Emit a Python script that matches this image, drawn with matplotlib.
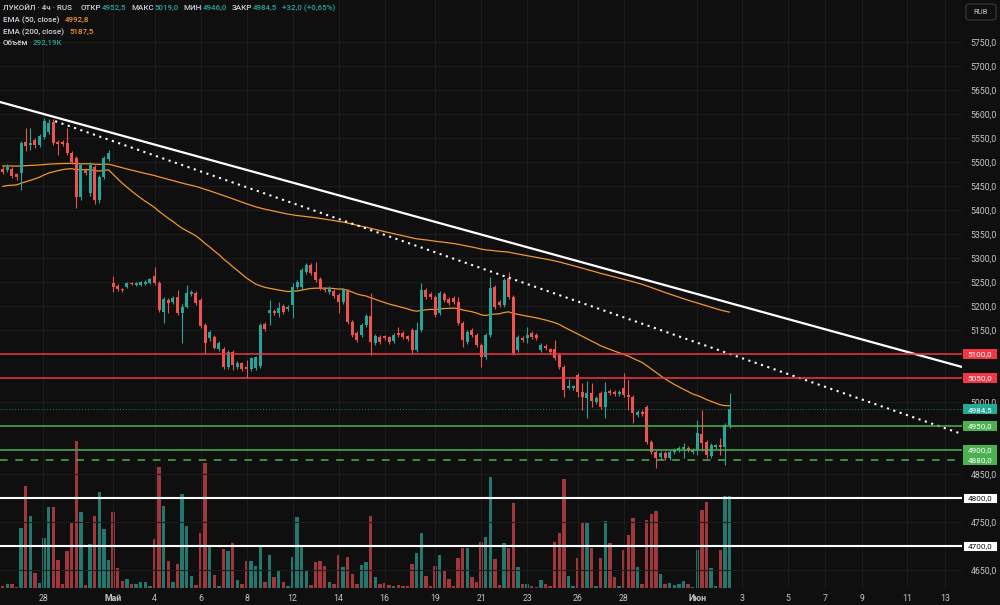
import numpy as np
import matplotlib
matplotlib.use("Agg")
import matplotlib.pyplot as plt
from matplotlib.transforms import blended_transform_factory
from matplotlib.patches import Rectangle, FancyBboxPatch

plt.rcParams['font.family'] = ['Roboto', 'DejaVu Sans']

# ---------------- data (4h candles, LUKOIL) ----------------
opens = [5486, 5483, 5485, 5475, 5477, 5542, 5535, 5546, 5535, 5552,
         5562, 5583, 5542, 5542, 5540, 5519, 5508, 5427, 5483, 5435,
         5490, 5421, 5469, 5506,
         5248, 5242, 5236, 5240, 5247, 5244, 5244, 5246, 5248, 5262,
         5248, 5188, 5213, 5208, 5219, 5185, 5198, 5225, 5227, 5213,
         5160, 5133, 5135, 5110, 5110, 5073, 5104, 5073, 5081, 5073,
         5069, 5071, 5075, 5162, 5185, 5190, 5185, 5200, 5194, 5202,
         5240, 5240, 5271, 5285, 5271, 5256, 5238, 5229, 5231, 5223,
         5208, 5231, 5167, 5144, 5140, 5160, 5179, 5123, 5135, 5137,
         5135, 5127, 5144, 5144, 5137, 5150, 5108, 5150, 5233, 5225,
         5219, 5185, 5225, 5215, 5217, 5208, 5165, 5125, 5150, 5140,
         5119, 5094, 5140, 5240, 5208, 5202, 5258, 5219, 5108, 5133,
         5133, 5144, 5140, 5108, 5117, 5110, 5110, 5098, 5073, 5029,
         5029, 5056, 5021, 5008, 5019, 5000, 5019, 4990, 5023, 5021,
         5017, 5029, 5015, 5010, 4973, 4979, 4990, 4917, 4896, 4885,
         4894, 4883, 4896, 4900, 4902, 4904, 4896, 4900, 4933, 4917,
         4887, 4906, 4910, 4906, 4952.5]
highs = [5492, 5496, 5490, 5478, 5544, 5571, 5571, 5550, 5558, 5592,
         5590, 5590, 5546, 5546, 5571, 5523, 5512, 5498, 5487, 5500,
         5494, 5473, 5512, 5525,
         5262, 5246, 5238, 5250, 5250, 5250, 5252, 5254, 5258, 5281,
         5252, 5219, 5217, 5221, 5233, 5204, 5244, 5233, 5231, 5217,
         5165, 5150, 5140, 5127, 5115, 5108, 5108, 5085, 5083, 5088,
         5094, 5096, 5165, 5167, 5213, 5194, 5208, 5204, 5202, 5248,
         5254, 5279, 5290, 5290, 5292, 5260, 5240, 5242, 5235, 5227,
         5238, 5235, 5171, 5148, 5165, 5183, 5227, 5142, 5140, 5140,
         5138, 5144, 5156, 5148, 5140, 5154, 5167, 5248, 5238, 5229,
         5223, 5231, 5229, 5219, 5221, 5219, 5169, 5150, 5154, 5144,
         5123, 5144, 5260, 5244, 5213, 5258, 5271, 5223, 5140, 5137,
         5156, 5148, 5144, 5123, 5121, 5113, 5129, 5102, 5077, 5048,
         5036, 5060, 5040, 5044, 5040, 5012, 5023, 5042, 5027, 5025,
         5025, 5060, 5046, 5015, 4983, 4983, 4994, 4921, 4900, 4898,
         4898, 4900, 4904, 4908, 4915, 4908, 4904, 4962, 4983, 4921,
         4915, 4913, 4925, 4956, 5019]
lows = [5474, 5480, 5466, 5462, 5442, 5523, 5525, 5530, 5531, 5548,
        5558, 5535, 5515, 5533, 5515, 5496, 5404, 5420, 5472, 5430,
        5412, 5415, 5465, 5502,
        5229, 5231, 5230, 5238, 5243, 5242, 5242, 5244, 5246, 5244,
        5188, 5165, 5185, 5204, 5181, 5123, 5196, 5221, 5202, 5154,
        5102, 5128, 5110, 5106, 5069, 5069, 5067, 5069, 5065, 5050,
        5065, 5067, 5071, 5148, 5160, 5181, 5177, 5183, 5190, 5175,
        5236, 5236, 5267, 5265, 5250, 5233, 5229, 5225, 5217, 5185,
        5204, 5162, 5135, 5125, 5135, 5156, 5098, 5119, 5121, 5129,
        5121, 5123, 5135, 5131, 5127, 5102, 5104, 5146, 5215, 5215,
        5177, 5181, 5208, 5202, 5204, 5160, 5115, 5121, 5135, 5115,
        5073, 5090, 5135, 5194, 5198, 5198, 5215, 5098, 5104, 5125,
        5123, 5131, 5129, 5104, 5108, 5100, 5088, 5069, 5010, 5027,
        5025, 5010, 4983, 4967, 4990, 4996, 4985, 4967, 5015, 5013,
        5013, 5010, 4983, 4956, 4969, 4971, 4913, 4892, 4862, 4879,
        4879, 4879, 4892, 4896, 4883, 4896, 4892, 4890, 4898, 4883,
        4883, 4902, 4890, 4869, 4946]
closes = [5480, 5490, 5471, 5469, 5540, 5533, 5540, 5535, 5554, 5585,
          5581, 5540, 5538, 5538, 5519, 5500, 5427, 5494, 5477, 5494,
          5421, 5469, 5508, 5519,
          5240, 5235, 5233, 5248, 5245, 5248, 5250, 5251, 5256, 5248,
          5192, 5215, 5206, 5217, 5185, 5198, 5227, 5229, 5206, 5158,
          5123, 5146, 5113, 5123, 5073, 5104, 5077, 5081, 5069, 5069,
          5092, 5094, 5160, 5152, 5192, 5185, 5196, 5187, 5198, 5240,
          5250, 5275, 5285, 5269, 5254, 5238, 5233, 5238, 5221, 5208,
          5235, 5167, 5140, 5129, 5160, 5179, 5125, 5137, 5125, 5133,
          5125, 5140, 5140, 5135, 5131, 5108, 5150, 5233, 5219, 5219,
          5181, 5227, 5213, 5206, 5208, 5165, 5129, 5146, 5140, 5119,
          5094, 5140, 5238, 5198, 5202, 5254, 5219, 5102, 5135, 5129,
          5140, 5135, 5133, 5119, 5113, 5104, 5092, 5073, 5025, 5033,
          5033, 5021, 5010, 5019, 5002, 5008, 4990, 5021, 5019, 5017,
          5021, 5015, 5010, 4977, 4979, 4975, 4917, 4896, 4883, 4894,
          4883, 4896, 4900, 4904, 4906, 4900, 4900, 4935, 4915, 4890,
          4910, 4910, 4906, 4952.5, 4984.5]
volumes_k = [6, 12, 12, 3, 191, 324, 229, 48, 16, 159,
             257, 257, 89, 13, 118, 206, 467, 241, 10, 140,
             229, 305, 187, 89,
             241, 64, 22, 29, 13, 13, 19, 19, 6, 156,
             384, 260, 86, 19, 76, 299, 197, 38, 10, 175,
             397, 137, 41, 6, 124, 118, 143, 25, 13, 86,
             86, 70, 133, 19, 105, 35, 57, 19, 6, 98,
             225, 137, 57, 10, 83, 86, 70, 19, 13, 105,
             67, 98, 44, 13, 73, 83, 229, 35, 13, 16,
             10, 6, 10, 6, 6, 76, 111, 175, 38, 6,
             70, 105, 57, 29, 6, 95, 127, 127, 35, 19,
             146, 162, 353, 92, 10, 143, 127, 270, 67, 13,
             13, 6, 3, 25, 13, 6, 146, 175, 346, 38,
             6, 95, 210, 210, 127, 6, 95, 213, 143, 35,
             6, 121, 168, 222, 67, 13, 216, 235, 245, 44,
             13, 16, 10, 13, 22, 13, 3, 121, 248, 273,
             64, 6, 121, 292, 292.19]

ema50_seed, ema200_seed = 5448, 5492
ema50_label, ema200_label = 4992.8, 5187.5

xtick_pos = [8.8, 24, 33, 43, 53, 63, 73, 83, 94, 104, 114, 125, 135, 151,
             160.7, 170.7, 178.8, 186.8, 196.6, 204.9]
xtick_lab = ['28', 'Май', '4', '6', '8', '12', '14', '16', '19', '21', '23',
             '26', '28', 'Июн', '3', '5', '7', '9', '11', '13']
month_labels = ['Май', 'Июн']

level_prices = [5100, 5050, 4950, 4900, 4880, 4800, 4700]
level_kinds = ['red', 'red', 'green', 'green', 'green_dash', 'white', 'white']

trend_solid = [(-0.59, 5625), (198.3, 5100)]
trend_dotted = [(11.4, 5585), (158.1, 5100)]

# ---------------- style ----------------
W, H = 1000, 605
BG = '#0f0f0f'
GRID = '#1c1c1c'
UP, DN = '#26a69a', '#ef5350'
VUP, VDN = '#22786e', '#a0373a'
ORANGE = '#f0962e'
TXT = '#d1d4dc'
AXT = '#c4c4c4'
LEVEL_COL = {'red': '#f23645', 'green': '#4caf50', 'green_dash': '#4caf50', 'white': '#ffffff'}

def fmt(v):
    return f"{v:.1f}".replace('.', ',')

def ema(values, span, seed):
    a = 2.0 / (span + 1)
    e, out = seed, []
    for v in values:
        e = a * v + (1 - a) * e
        out.append(e)
    return np.array(out)

o = np.array(opens, float); h = np.array(highs, float)
l = np.array(lows, float); c = np.array(closes, float)
v = np.array(volumes_k, float)
x = np.arange(len(o))
up = c >= o

fig = plt.figure(figsize=(W / 100, H / 100), dpi=100, facecolor=BG)
ax = fig.add_axes([0, 17 / H, 962 / W, 588 / H])
axv = ax.twinx()
ax.set_zorder(axv.get_zorder() + 1)
ax.patch.set_visible(False)
axv.axis('off')

ax.set_xlim(-0.587, 208.54)
ax.set_ylim(4612.5, 5837.5)
axv.set_ylim(0, 588 * 3.176)

# volume
axv.bar(x, v, width=0.72, color=np.where(up, VUP, VDN), linewidth=0)

# grid
yticks = np.arange(4650, 5751, 50)
ax.set_yticks(yticks)
ax.set_xticks(xtick_pos)
ax.grid(True, color=GRID, linewidth=0.8, zorder=0)
for s in ax.spines.values():
    s.set_visible(False)

# EMAs
ax.plot(x, ema(c, 200, ema200_seed), color=ORANGE, lw=0.9, zorder=2)
ax.plot(x, ema(c, 50, ema50_seed), color=ORANGE, lw=0.9, zorder=2)

# candles
cols = np.where(up, UP, DN)
ax.vlines(x, l, h, colors=cols, linewidth=0.8, zorder=3)
ax.bar(x, np.maximum(np.abs(c - o), 2.0), bottom=np.minimum(o, c), width=0.64,
       color=cols, linewidth=0, zorder=4)

# trend lines
ax.axline(trend_solid[0], trend_solid[1], color='white', lw=1.6, zorder=5)
(x1, y1), (x2, y2) = trend_dotted
slope = (y2 - y1) / (x2 - x1)
xe = ax.get_xlim()[1]
ax.plot([x1, xe], [y1, y1 + slope * (xe - x1)], color='white', lw=1.5,
        linestyle=(0, (1, 2.2)), zorder=5)

# horizontal levels
for p, k in zip(level_prices, level_kinds):
    ls = (0, (5, 5)) if k == 'green_dash' else '-'
    lw = 1.5 if k == 'white' else 1.1
    ax.axhline(p, color=LEVEL_COL[k], lw=lw, linestyle=ls, zorder=5)
ax.axhline(c[-1], color=UP, lw=0.7, linestyle=(0, (1, 2)), alpha=0.7, zorder=5)

# axes ticks (labels hidden where a level box covers them)
ax.yaxis.tick_right()
ax.set_yticklabels(['' if t in level_prices else fmt(t) for t in yticks])
ax.tick_params(axis='y', length=0, pad=6, labelsize=6.3, labelcolor=AXT)
ax.set_xticklabels(xtick_lab)
ax.tick_params(axis='x', length=0, pad=4, labelsize=6.3, labelcolor=AXT)
for t in ax.get_xticklabels():
    if t.get_text() in month_labels:
        t.set_fontweight('bold')

# price boxes on the scale
trans = blended_transform_factory(ax.transAxes, ax.transData)
hh = 5.0 / 0.48
def price_box(price, fc, tc, ec='none'):
    ax.add_patch(Rectangle((963 / 962, price - hh), 34 / 962, 2 * hh, transform=trans,
                           facecolor=fc, edgecolor=ec, lw=0.6, clip_on=False, zorder=8))
    ax.text(980 / 962, price, fmt(price), transform=trans, ha='center', va='center_baseline',
            color=tc, fontsize=5.9, zorder=9, clip_on=False)

for p, k in zip(level_prices, level_kinds):
    if k == 'white':
        price_box(p, '#ffffff', '#131313', ec='#000000')
    else:
        price_box(p, LEVEL_COL[k], '#ffffff')
price_box(c[-1], '#22ab94', '#ffffff')

# RUB button
fig.patches.append(FancyBboxPatch((966 / W, 1 - 20 / H), 30 / W, 16 / H,
                                  boxstyle='round,pad=0,rounding_size=0.004',
                                  transform=fig.transFigure, facecolor=BG,
                                  edgecolor='#3a3a3a', lw=0.8))
fig.text(981 / W, 1 - 12 / H, 'RUB', ha='center', va='center', color=AXT, fontsize=5.5)

# legend lines, laid out piece by piece
renderer = fig.canvas.get_renderer()
def seq(py, parts, px=3, size=5.8):
    for s, color, gap in parts:
        t = fig.text(px / W, 1 - py / H, s, ha='left', va='center', color=color,
                     fontsize=size, fontweight='medium')
        bb = t.get_window_extent(renderer)
        px = bb.x1 + gap

chg = c[-1] - c[-2]
pct = chg / c[-2] * 100
chg_txt = (f"{'+' if chg >= 0 else ''}{fmt(chg)} "
           f"({'+' if pct >= 0 else ''}{pct:.2f}%)").replace('.', ',')
seq(8, [('ЛУКОЙЛ · 4ч · RUS', TXT, 9), ('ОТКР', TXT, 0.5), (fmt(o[-1]), UP, 5),
        ('МАКС', TXT, 0.5), (fmt(h[-1]), UP, 5), ('МИН', TXT, 0.5), (fmt(l[-1]), UP, 5),
        ('ЗАКР', TXT, 0.5), (fmt(c[-1]), UP, 5), (chg_txt, UP, 0)])
seq(20, [('EMA (50, close)', TXT, 5), (fmt(ema50_label), ORANGE, 0)])
seq(32, [('EMA (200, close)', TXT, 5), (fmt(ema200_label), ORANGE, 0)])
seq(43, [('Объём', TXT, 4), (f"{v[-1]:.2f}".replace('.', ',') + 'K', UP, 0)])

fig.savefig('out.png', dpi=100, facecolor=BG)
